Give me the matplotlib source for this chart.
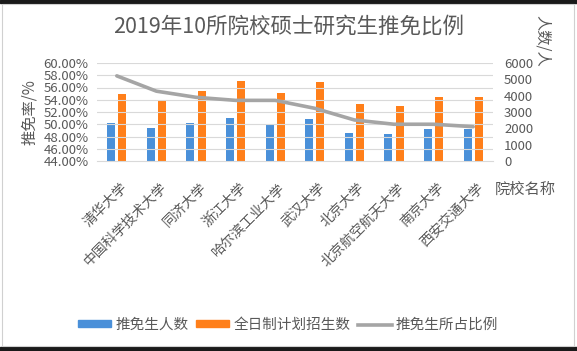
import numpy as np
import matplotlib
matplotlib.use("Agg")
import matplotlib.pyplot as plt
import matplotlib.patches as mpatches
from matplotlib.lines import Line2D
from matplotlib.ticker import FuncFormatter, MultipleLocator

plt.rcParams['font.family'] = ['Noto Sans CJK SC', 'DejaVu Sans']

# ─── Data ─────────────────────────────────────────────────────────────────────
schools = ["清华大学", "中国科学技术大学", "同济大学", "浙江大学", "哈尔滨工业大学",
           "武汉大学", "北京大学", "北京航空航天大学", "南京大学", "西安交通大学"]
recommended = [2345, 2040, 2345, 2630, 2185, 2550, 1735, 1675, 1960, 1960]
enrollment = [4100, 3715, 4305, 4900, 4165, 4835, 3510, 3345, 3940, 3940]
ratio_pct = [57.9, 55.4, 54.4, 53.9, 53.9, 52.6, 50.7, 50.0, 50.0, 49.6]

TXT = "#595959"
BLUE = "#4A90D9"
ORANGE = "#FF7F1A"
GRAY = "#A5A5A5"
GRID = "#D9D9D9"

fig = plt.figure(figsize=(5.77, 3.51), dpi=100, facecolor="white")

# screenshot frame: dark bands + light chart border
fig.patches.append(mpatches.Rectangle((0, 1 - 3 / 351), 1, 3 / 351, transform=fig.transFigure,
                                      color="#1a1a1a", zorder=0))
fig.patches.append(mpatches.Rectangle((0, 0), 1, 4 / 351, transform=fig.transFigure,
                                      color="#1a1a1a", zorder=0))
fig.patches.append(mpatches.Rectangle((2 / 577, 5 / 351), 572 / 577, 342 / 351,
                                      transform=fig.transFigure, fill=False,
                                      ec="#d0d0d0", lw=0.8, zorder=0))

ax = fig.add_axes([97 / 577, 190 / 351, 396 / 577, 98 / 351])
ax2 = ax.twinx()

x = np.arange(len(schools))
bw = 0.2
ax2.bar(x - 0.14, recommended, width=bw, color=BLUE, zorder=3)
ax2.bar(x + 0.14, enrollment, width=bw, color=ORANGE, zorder=3)
ax.plot(x, ratio_pct, color=GRAY, lw=2.6, zorder=4, solid_capstyle="round")

ax.set_zorder(ax2.get_zorder() + 1)
ax.patch.set_visible(False)

ax.set_xlim(-0.5, len(schools) - 0.5)
ax.set_ylim(44, 60)
ax.yaxis.set_major_locator(MultipleLocator(2))
ax.yaxis.set_major_formatter(FuncFormatter(lambda v, p: f"{v:.2f}%"))
ax2.set_ylim(0, 6000)
ax2.yaxis.set_major_locator(MultipleLocator(1000))

ax2.grid(False)
for v in np.arange(46, 61, 2):
    ax.axhline(v, color=GRID, lw=0.8, zorder=1)

for a in (ax, ax2):
    for s in a.spines.values():
        s.set_visible(False)
ax.spines["bottom"].set_visible(True)
ax.spines["bottom"].set_color(GRID)

ax.tick_params(axis="y", length=0, labelsize=9.5, labelcolor=TXT, pad=6)
ax2.tick_params(axis="y", length=0, labelsize=9.5, labelcolor=TXT, pad=8)
ax.set_xticks(x + 0.08)
ax.set_xticklabels(schools, rotation=45, ha="right", va="top",
                   rotation_mode="anchor", fontsize=10, color=TXT)
ax.tick_params(axis="x", length=0, pad=14)

ax.set_ylabel("推免率/%", fontsize=11, color=TXT, labelpad=4)
fig.text(542 / 577, 1 - 41 / 351, "人数/人", rotation=270, fontsize=11, color=TXT,
         ha="center", va="center")
fig.text(525 / 577, 1 - 189 / 351, "院校名称", fontsize=11, color=TXT,
         ha="center", va="center")

fig.text(289 / 577, 1 - 27 / 351, "2019年10所院校硕士研究生推免比例", fontsize=15.5,
         color=TXT, ha="center", va="center")

handles = [
    mpatches.Patch(color=BLUE, label="推免生人数"),
    mpatches.Patch(color=ORANGE, label="全日制计划招生数"),
    Line2D([0], [0], color=GRAY, lw=2.6, label="推免生所占比例"),
]
leg = fig.legend(handles=handles, loc="center", bbox_to_anchor=(288 / 577, 1 - 325 / 351),
                 ncol=3, frameon=False, fontsize=10.5, handlelength=2.3, handleheight=0.4,
                 handletextpad=0.3, columnspacing=0.5)
for t in leg.get_texts():
    t.set_color(TXT)

fig.savefig("out.png", dpi=100, facecolor="white")
